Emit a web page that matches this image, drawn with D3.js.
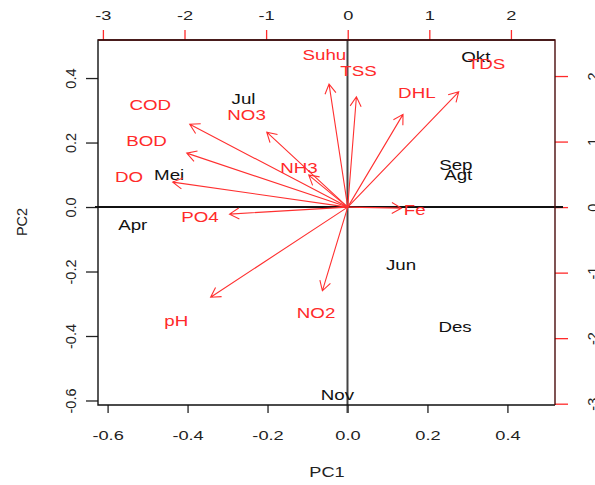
<!DOCTYPE html>
<html><head><meta charset="utf-8">
<script src="https://cdn.jsdelivr.net/npm/d3@7"></script>
<style>body{margin:0;background:#fff}svg{display:block}text{font-family:"Liberation Sans",Arial,sans-serif}</style>
</head><body>
<script>
// Observations (PC1, PC2 scores)
const months = ["Okt","Sep","Agt","Jun","Des","Nov","Jul","Mei","Apr"];
const pc1 = [0.321, 0.271, 0.277, 0.134, 0.269, -0.025, -0.260, -0.446, -0.537];
const pc2 = [0.471, 0.133, 0.104, -0.175, -0.369, -0.578, 0.339, 0.102, -0.053];
// Variable loadings (top/right scale); arrows drawn to 0.8 of these
const variables = ["COD","BOD","DO","NO3","NH3","PO4","pH","NO2","Fe","Suhu","TSS","DHL","TDS"];
const load1 = [-2.42, -2.466, -2.68, -1.24, -0.597, -1.81, -2.10, -0.388, 0.822, -0.286, 0.133, 0.847, 1.70];
const load2 = [1.58, 1.03, 0.477, 1.43, 0.611, -0.134, -1.72, -1.597, -0.02, 2.347, 2.105, 1.769, 2.20];
const bottomTicks = [-0.6, -0.4, -0.2, 0.0, 0.2, 0.4];
const leftTicks = [-0.6, -0.4, -0.2, 0.0, 0.2, 0.4];
const topTicks = [-3, -2, -1, 0, 1, 2];
const rightTicks = [-3, -2, -1, 0, 1, 2];

const W = 595, H = 485;
const L = 98, R = 555, T = 40, B = 405;
const svg = d3.select("body").append("svg").attr("width", W).attr("height", H);

const x = d3.scaleLinear().domain([-0.624, 0.519]).range([L, R]);
const y = d3.scaleLinear().domain([-0.614, 0.518]).range([B, T]);
const x2 = d3.scaleLinear().domain([-3.06, 2.54]).range([L, R]);
const y2 = d3.scaleLinear().domain([-3.02, 2.55]).range([B, T]);

const red = "#ff2a2a";
const fmt1 = d => d.toFixed(1);

// bottom axis
const gb = svg.append("g").attr("transform", `translate(0,${B})`)
  .call(d3.axisBottom(x).tickValues(bottomTicks).tickSize(8).tickSizeOuter(0).tickFormat(fmt1));
gb.select(".domain").remove();
gb.selectAll(".tick line").attr("stroke", "#222").attr("stroke-width", 1.3);
gb.selectAll(".tick text").attr("y", null).attr("dy", null).attr("font-size", 13.5).attr("fill", "#222")
  .attr("transform", "translate(0,35) scale(1.35,1)").attr("font-family", null);

// left axis
const gl = svg.append("g").attr("transform", `translate(${L},0)`)
  .call(d3.axisLeft(y).tickValues(leftTicks).tickSize(12).tickSizeOuter(0).tickFormat(fmt1));
gl.select(".domain").remove();
gl.selectAll(".tick line").attr("stroke", "#222").attr("stroke-width", 1.3);
gl.selectAll(".tick text").attr("x", null).attr("dy", null).attr("font-size", 14.5).attr("fill", "#222")
  .attr("text-anchor", "middle").attr("transform", "translate(-22,0) rotate(-90)").attr("font-family", null);

// top axis (red ticks)
const gt = svg.append("g").attr("transform", `translate(0,${T})`)
  .call(d3.axisTop(x2).tickValues(topTicks).tickSize(10).tickSizeOuter(0).tickFormat(d => String(d)));
gt.select(".domain").remove();
gt.selectAll(".tick line").attr("stroke", red).attr("stroke-width", 1.3);
gt.selectAll(".tick text").attr("y", null).attr("dy", null).attr("font-size", 13.5).attr("fill", "#222")
  .attr("transform", "translate(0,-20) scale(1.35,1)").attr("font-family", null);

// right axis (red ticks)
const gr = svg.append("g").attr("transform", `translate(${R},0)`)
  .call(d3.axisRight(y2).tickValues(rightTicks).tickSize(13).tickSizeOuter(0).tickFormat(d => String(d)));
gr.select(".domain").remove();
gr.selectAll(".tick line").attr("stroke", red).attr("stroke-width", 1.3);
gr.selectAll(".tick text").attr("x", null).attr("dy", null).attr("font-size", 14.5).attr("fill", "#222")
  .attr("text-anchor", "middle").attr("transform", "translate(43,0) rotate(-90)").attr("font-family", null);

// zero lines
svg.append("line").attr("x1", 95).attr("x2", 563).attr("y1", y(0)).attr("y2", y(0))
  .attr("stroke", "#111").attr("stroke-width", 2);
svg.append("line").attr("x1", x(0)).attr("x2", x(0)).attr("y1", T).attr("y2", 413)
  .attr("stroke", "#444").attr("stroke-width", 2);

// box
svg.append("path").attr("d", `M${R},${T}H${L}V${B}H${R}`).attr("fill", "none").attr("stroke", "#111").attr("stroke-width", 1.4);
svg.append("path").attr("d", `M${L},${T}H${R}V${B}`).attr("fill", "none").attr("stroke", "#4a0c0c").attr("stroke-width", 1.4);

// month labels
months.forEach((m, i) => {
  svg.append("text").attr("text-anchor", "middle").attr("dominant-baseline", "central")
    .attr("font-size", 15).attr("fill", "#111")
    .attr("transform", `translate(${x(pc1[i])},${y(pc2[i]) + 1.5}) scale(1.25,1)`).text(m);
});

// arrows
const ah = 11, ang = Math.PI / 6;
variables.forEach((v, i) => {
  const x0 = x2(0), y0 = y2(0);
  const tx = x2(load1[i] * 0.8), ty = y2(load2[i] * 0.8);
  const th = Math.atan2(ty - y0, tx - x0);
  const p1 = [tx - ah * Math.cos(th - ang), ty - ah * Math.sin(th - ang)];
  const p2 = [tx - ah * Math.cos(th + ang), ty - ah * Math.sin(th + ang)];
  svg.append("path")
    .attr("d", `M${x0},${y0}L${tx},${ty}M${p1[0]},${p1[1]}L${tx},${ty}L${p2[0]},${p2[1]}`)
    .attr("fill", "none").attr("stroke", "#ff3030").attr("stroke-width", 1.1);
  svg.append("text").attr("text-anchor", "middle").attr("dominant-baseline", "central")
    .attr("font-size", 15).attr("fill", red)
    .attr("transform", `translate(${x2(load1[i])},${y2(load2[i]) + 1.5}) scale(1.25,1)`).text(v);
});

// axis titles
svg.append("text").attr("text-anchor", "middle").attr("font-size", 14).attr("fill", "#222")
  .attr("transform", "translate(327,477) scale(1.3,1)").text("PC1");
svg.append("text").attr("text-anchor", "middle").attr("font-size", 14.5).attr("fill", "#222")
  .attr("transform", "translate(27,222) rotate(-90)").text("PC2");
</script>
</body></html>
